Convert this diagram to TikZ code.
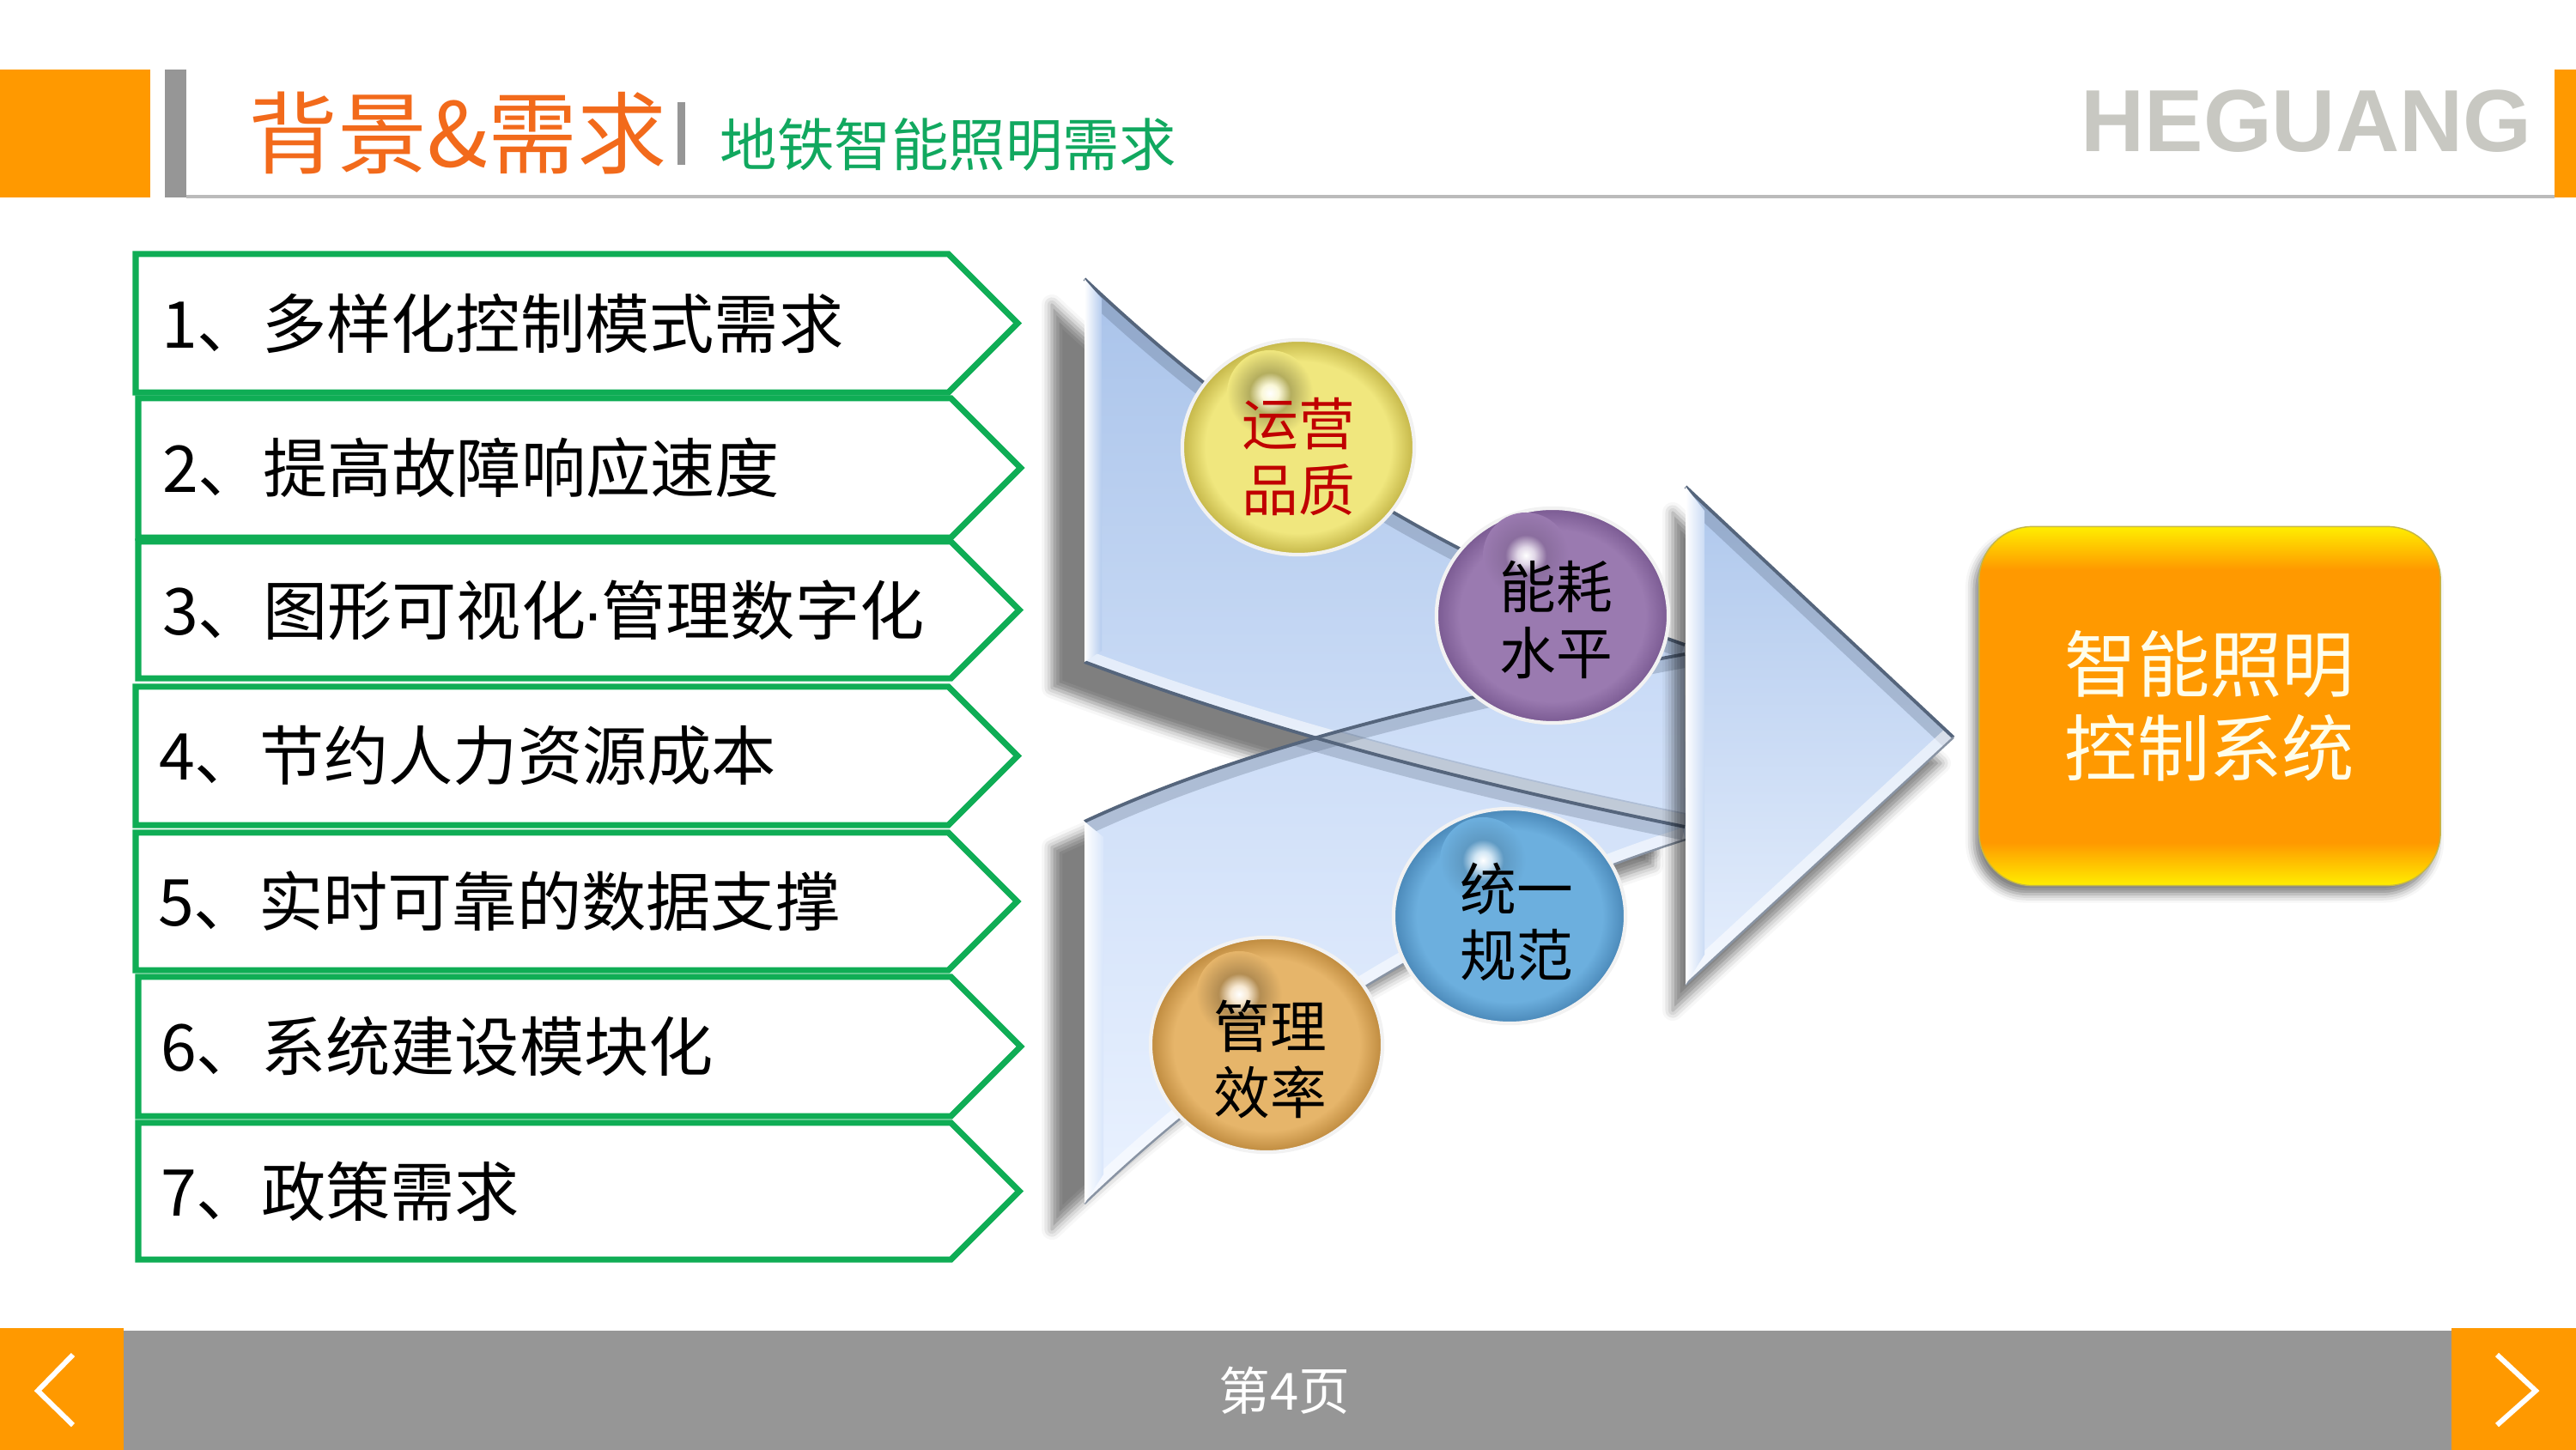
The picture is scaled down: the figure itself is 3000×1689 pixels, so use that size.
\documentclass[tikz,border=0pt]{standalone}
\usepackage{fontspec}
\setmainfont{Noto Sans CJK SC}
\newfontfamily\logofont{Liberation Sans}
\usetikzlibrary{positioning}
\usetikzlibrary{calc}
\usetikzlibrary{shapes.geometric, shapes.symbols}
\usetikzlibrary{shadows.blur}
\definecolor{barorange}{HTML}{FF9900}
\definecolor{glowyellow}{HTML}{FFEE00}
\definecolor{bargray}{HTML}{969696}
\definecolor{rulegray}{HTML}{BBBBBB}
\definecolor{titleorange}{HTML}{F26A1B}
\definecolor{titlegreen}{HTML}{11A85F}
\definecolor{logogray}{HTML}{C8C8C2}
\definecolor{rowgreen}{HTML}{0FAD55}
\definecolor{edgeslate}{HTML}{55657C}
\definecolor{ballred}{HTML}{C00000}
\definecolor{uppertop}{HTML}{A9C3EA}
\definecolor{upperend}{HTML}{D2E1F8}
\definecolor{lowertop}{HTML}{C8DAF6}
\definecolor{lowerend}{HTML}{EAF2FF}
\definecolor{tritop}{HTML}{AEC7EC}
\definecolor{triend}{HTML}{E6EFFD}
\definecolor{ymain}{HTML}{F0E77E}
\definecolor{yrim}{HTML}{C4B648}
\definecolor{pmain}{HTML}{9A7AB0}
\definecolor{prim}{HTML}{7A5A92}
\definecolor{bmain}{HTML}{6CAFDE}
\definecolor{brim}{HTML}{4A88B8}
\definecolor{omain}{HTML}{E6B56A}
\definecolor{orim}{HTML}{BE8A3E}
\pgfdeclareverticalshading{boxglow}{100bp}{color(0bp)=(glowyellow); color(25bp)=(glowyellow); color(31bp)=(barorange); color(69bp)=(barorange); color(75bp)=(glowyellow); color(100bp)=(glowyellow)}
\pgfdeclareradialshading{ygem}{\pgfpoint{0bp}{0bp}}{color(0bp)=(ymain); color(20bp)=(ymain); color(25bp)=(yrim); color(50bp)=(yrim)}
\pgfdeclareradialshading{pgem}{\pgfpoint{0bp}{0bp}}{color(0bp)=(pmain); color(20bp)=(pmain); color(25bp)=(prim); color(50bp)=(prim)}
\pgfdeclareradialshading{bgem}{\pgfpoint{0bp}{0bp}}{color(0bp)=(bmain); color(20bp)=(bmain); color(25bp)=(brim); color(50bp)=(brim)}
\pgfdeclareradialshading{ogem}{\pgfpoint{0bp}{0bp}}{color(0bp)=(omain); color(20bp)=(omain); color(25bp)=(orim); color(50bp)=(orim)}
\pgfdeclareradialshading{yglint}{\pgfpoint{0bp}{0bp}}{color(0bp)=(white); color(5bp)=(white!70!ymain); color(12bp)=(black!25!ymain); color(25bp)=(ymain); color(50bp)=(ymain)}
\pgfdeclareradialshading{pglint}{\pgfpoint{0bp}{0bp}}{color(0bp)=(white); color(5bp)=(white!70!pmain); color(12bp)=(black!10!pmain); color(25bp)=(pmain); color(50bp)=(pmain)}
\pgfdeclareradialshading{bglint}{\pgfpoint{0bp}{0bp}}{color(0bp)=(white); color(5bp)=(white!70!bmain); color(12bp)=(black!12!bmain); color(25bp)=(bmain); color(50bp)=(bmain)}
\pgfdeclareradialshading{oglint}{\pgfpoint{0bp}{0bp}}{color(0bp)=(white); color(5bp)=(white!70!omain); color(12bp)=(black!22!omain); color(25bp)=(omain); color(50bp)=(omain)}
\newcommand{\upperedge}{(1263,325) .. controls (1480,530) and (1700,660) .. (1962,751)}
\newcommand{\upperfoot}{(1962,963) .. controls (1750,920) and (1500,860) .. (1263,771)}
\newcommand{\loweredge}{(1263,957) .. controls (1450,870) and (1700,810) .. (1962,762)}
\newcommand{\lowerfoot}{(1963,978) .. controls (1750,1045) and (1500,1175) .. (1263,1402)}
\begin{document}
\begin{tikzpicture}[
		x=0.01cm, y=-0.01cm,
		rowbox/.style={signal, signal to=east, signal from=nowhere, signal pointer angle=90, draw=rowgreen, line width=2pt, fill=white, anchor=west, align=left, text width=8.86cm, inner xsep=0.3cm, inner ysep=0pt, outer sep=0pt, font=\fontsize{21.4}{25}\selectfont},
		gem/.style={ellipse, draw=white!95!black, line width=1.2pt, minimum width=2.7cm, minimum height=2.5cm, inner sep=0pt},
		gemtext/.style={inner sep=0pt, align=center, font=\fontsize{18.7}{21.9}\selectfont},
		softedge/.style={draw=edgeslate, line width=9pt, opacity=0.28},
		darkedge/.style={draw=edgeslate, line width=1.1pt},
		paleedge/.style={draw=white, line width=8pt, opacity=0.55},
		greyedge/.style={draw=edgeslate!70, line width=0.7pt},
		flatshadow/.style={blur shadow={shadow xshift=#1, shadow yshift=-0.3cm, shadow blur radius=0.12cm, shadow opacity=50}}
	]
	\useasboundingbox (0,0) rectangle (3000,1689);

	% header
	\fill[barorange] (0,81) rectangle (175,230);
	\fill[bargray] (192,81) rectangle (217,230);
	\fill[rulegray] (217,227) rectangle (2975,231);
	\fill[barorange] (2975,81) rectangle (3000,230);
	\fill[bargray] (789,119) rectangle (798,192);
	\node[anchor=west, inner sep=0pt, text=titleorange, font=\fontsize{29.6}{34}\selectfont] (title) at (289,155) {背景\&需求};
	\node[anchor=west, inner sep=0pt, text=titlegreen, font=\fontsize{18.9}{22}\selectfont] (subtitle) at (838,168) {地铁智能照明需求};
	\node[anchor=east, inner sep=0pt, text=logogray, font=\logofont\bfseries\fontsize{29.2}{32}\selectfont] (logo) at (2949,141) {HEGUANG};

	% list
	\node[rowbox, minimum height=1.61cm] (row1) at (158,376.5) {1、多样化控制模式需求};
	\node[rowbox, minimum height=1.62cm] (row2) at (161,545) {\hspace*{-0.02cm}2、提高故障响应速度};
	\node[rowbox, minimum height=1.59cm] (row3) at (161,710.5) {\hspace*{-0.02cm}3、图形可视化{\logofont\kern-1pt·\kern-1pt}管理数字化};
	\node[rowbox, minimum height=1.61cm] (row4) at (158,880.5) {\hspace*{-0.03cm}4、节约人力资源成本};
	\node[rowbox, minimum height=1.60cm] (row5) at (158,1050) {\hspace*{-0.04cm}5、实时可靠的数据支撑};
	\node[rowbox, minimum height=1.62cm] (row6) at (161,1219) {\hspace*{-0.04cm}6、系统建设模块化};
	\node[rowbox, minimum height=1.59cm] (row7) at (161,1387.5) {\hspace*{-0.04cm}7、政策需求};

	% arrows
	\shade[flatshadow=-0.38cm, top color=uppertop, bottom color=upperend] \upperedge -- \upperfoot -- cycle;
	\shade[flatshadow=-0.38cm, top color=lowertop, bottom color=lowerend] \loweredge -- \lowerfoot -- cycle;
	\begin{scope}
		\clip \upperedge -- \upperfoot -- cycle;
		\draw[softedge] \upperedge;
		\draw[paleedge] \upperfoot;
	\end{scope}
	\begin{scope}
		\clip \loweredge -- \lowerfoot -- cycle;
		\draw[softedge] \loweredge;
		\draw[paleedge] \lowerfoot;
		\draw[softedge] \upperfoot;
	\end{scope}
	\draw[darkedge] \upperedge;
	\draw[darkedge] \upperfoot;
	\draw[darkedge] \loweredge;
	\draw[greyedge] \lowerfoot;
	\shade[left color=white, right color=uppertop!70!upperend] (1263,325) -- (1283,348) -- (1283,758) -- (1263,771) -- cycle;
	\shade[left color=white, right color=lowertop!50!lowerend] (1263,957) -- (1285,975) -- (1285,1368) -- (1263,1402) -- cycle;
	\shade[flatshadow=-0.15cm, top color=tritop, bottom color=triend] (1963,567) -- (2275,859) -- (1963,1147) -- cycle;
	\begin{scope}
		\clip (1963,567) -- (2275,859) -- (1963,1147) -- cycle;
		\draw[softedge] (1963,567) -- (2275,859);
		\draw[paleedge] (2275,859) -- (1963,1147);
	\end{scope}
	\draw[darkedge] (1963,567) -- (2275,859);
	\draw[greyedge] (2275,859) -- (1963,1147);
	\shade[left color=white, right color=tritop!50!triend] (1963,567) -- (1985,595) -- (1985,1112) -- (1963,1147) -- cycle;

	% balls
	\node[gem, shading=ygem] (quality) at (1512,521) {};
	\node[gem, shading=pgem] (energy) at (1808,717) {};
	\node[gem, shading=bgem] (standard) at (1758,1067) {};
	\node[gem, shading=ogem] (efficiency) at (1475,1217) {};
	\shade[shading=yglint] ($(quality)+(-33,-63)$) circle (0.5cm);
	\shade[shading=pglint] ($(energy)+(-31,-70)$) circle (0.5cm);
	\shade[shading=bglint] ($(standard)+(-31,-65)$) circle (0.5cm);
	\shade[shading=oglint] ($(efficiency)+(-32,-59)$) circle (0.5cm);
	\node[gemtext, text=ballred] (qualitytext) at (1512,532) {运营\\品质};
	\node[gemtext] (energytext) at (1812,722) {能耗\\水平};
	\node[gemtext] (standardtext) at (1766,1074) {统一\\规范};
	\node[gemtext] (efficiencytext) at (1479,1234) {管理\\效率};

	% system box
	\node[rounded corners=0.62cm, minimum width=5.37cm, minimum height=4.18cm, inner sep=0pt, shading=boxglow, draw=yrim, line width=0.4pt, text=white!92!yellow, align=center, font=\fontsize{24}{28}\selectfont, blur shadow={shadow xshift=-0.06cm, shadow yshift=-0.1cm, shadow blur radius=0.1cm, shadow opacity=50}] (system) at (2573.5,822.5) {智能照明\\控制系统};

	% footer
	\fill[bargray] (144,1550) rectangle (2855,1689);
	\fill[barorange] (0,1547) rectangle (144,1689);
	\fill[barorange] (2855,1547) rectangle (3000,1689);
	\node[inner sep=0pt, text=white, font=\fontsize{17}{20}\selectfont] (page) at (1496,1620) {第4页};
	\coordinate (prevtop) at (85,1578);
	\coordinate (prevmid) at (44,1620);
	\coordinate (prevend) at (85,1660);
	\coordinate (nexttop) at (2908,1578);
	\coordinate (nextmid) at (2953,1620);
	\coordinate (nextend) at (2908,1660);
	\draw[white, line width=1.7pt] (prevtop) -- (prevmid) -- (prevend);
	\draw[white, line width=1.7pt] (nexttop) -- (nextmid) -- (nextend);
\end{tikzpicture}
\end{document}
